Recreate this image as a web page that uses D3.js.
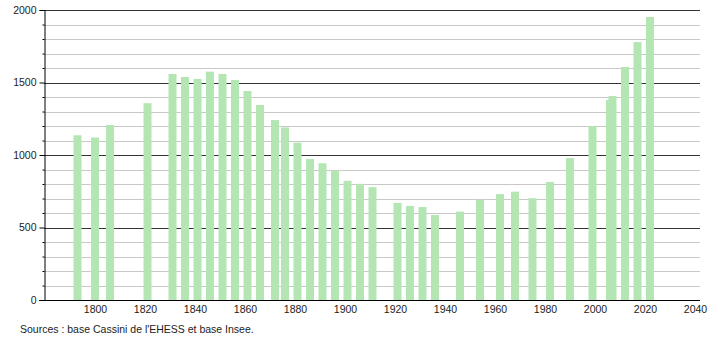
<!DOCTYPE html>
<html>
<head>
<meta charset="utf-8">
<script src="https://cdn.jsdelivr.net/npm/d3@7"></script>
<style>
  body { margin: 0; background: #fff; }
  svg { display: block; }
  svg text { font-family: "Liberation Sans", Arial, sans-serif; fill: #222; }
</style>
</head>
<body>
<div id="chart"></div>
<script>
// années de recensement
const years = [1793, 1800, 1806, 1821, 1831, 1836, 1841, 1846, 1851, 1856,
  1861, 1866, 1872, 1876, 1881, 1886, 1891, 1896, 1901, 1906,
  1911, 1921, 1926, 1931, 1936, 1946, 1954, 1962, 1968, 1975,
  1982, 1990, 1999, 2006, 2007, 2012, 2017, 2022];

// population
const population = [1136, 1120, 1207, 1357, 1559, 1538, 1524, 1575, 1559, 1517,
  1441, 1345, 1241, 1190, 1085, 972, 943, 892, 822, 801,
  778, 670, 649, 641, 586, 609, 692, 730, 747, 702,
  814, 979, 1200, 1379, 1407, 1607, 1779, 1952];

const xTicks = [1800, 1820, 1840, 1860, 1880, 1900, 1920, 1940, 1960, 1980, 2000, 2020, 2040];
const yMajor = [0, 500, 1000, 1500, 2000];
const yMinor = d3.range(100, 2000, 100).filter(v => v % 500 !== 0);
const source = "Sources : base Cassini de l'EHESS et base Insee.";

const data = years.map((y, i) => ({ year: y, pop: population[i] }));

const width = 710;
const height = 340;
const margin = { left: 44, right: 10, top: 10, bottom: 40 };
const innerWidth = width - margin.left - margin.right;
const innerHeight = height - margin.top - margin.bottom;

const svg = d3.select("#chart")
  .append("svg")
  .attr("width", width)
  .attr("height", height);

const g = svg.append("g")
  .attr("transform", `translate(${margin.left}, ${margin.top})`);

// échelles
const x = d3.scaleLinear()
  .domain([1779.6, 2042])
  .range([0, innerWidth]);

const y = d3.scaleLinear()
  .domain([0, 2000])
  .range([innerHeight, 0]);

const barWidth = 8;

// grille secondaire
g.append("g")
  .selectAll("line")
  .data(yMinor)
  .enter()
  .append("line")
  .attr("x1", 0)
  .attr("x2", innerWidth)
  .attr("y1", d => Math.round(y(d)) + 0.5)
  .attr("y2", d => Math.round(y(d)) + 0.5)
  .attr("stroke", "#c8c8c8");

// grille principale
g.append("g")
  .selectAll("line")
  .data(yMajor.filter(v => v > 0))
  .enter()
  .append("line")
  .attr("x1", 0)
  .attr("x2", innerWidth)
  .attr("y1", d => Math.round(y(d)) + 0.5)
  .attr("y2", d => Math.round(y(d)) + 0.5)
  .attr("stroke", "#333");

// barres
g.append("g")
  .selectAll("rect")
  .data(data)
  .enter()
  .append("rect")
  .attr("x", d => x(d.year) - barWidth / 2)
  .attr("y", d => y(d.pop))
  .attr("width", barWidth)
  .attr("height", d => innerHeight - y(d.pop))
  .attr("fill", "#b3e6b3");

// axe Y
const yAxis = g.append("g")
  .attr("transform", "translate(0.5, 0)")
  .call(d3.axisLeft(y).tickValues(yMajor).tickSize(5).tickPadding(3).tickFormat(d3.format("d")));

g.append("g")
  .attr("transform", "translate(0.5, 0)")
  .call(d3.axisLeft(y).tickValues(yMinor).tickSize(2).tickFormat(""))
  .select(".domain").remove();

yAxis.selectAll("text")
  .style("font-size", "10.5px");

// axe X
const xAxis = g.append("g")
  .attr("transform", `translate(0, ${innerHeight + 0.5})`)
  .call(d3.axisBottom(x).tickValues(xTicks).tickSize(0).tickPadding(5).tickFormat(d3.format("d")));

xAxis.select(".domain")
  .attr("d", `M-5,0H${innerWidth}`)
  .attr("stroke", "#000");

xAxis.selectAll("text")
  .style("font-size", "10.5px");

// source
svg.append("text")
  .attr("x", 20)
  .attr("y", 333)
  .style("font-size", "10.5px")
  .text(source);
</script>
</body>
</html>
